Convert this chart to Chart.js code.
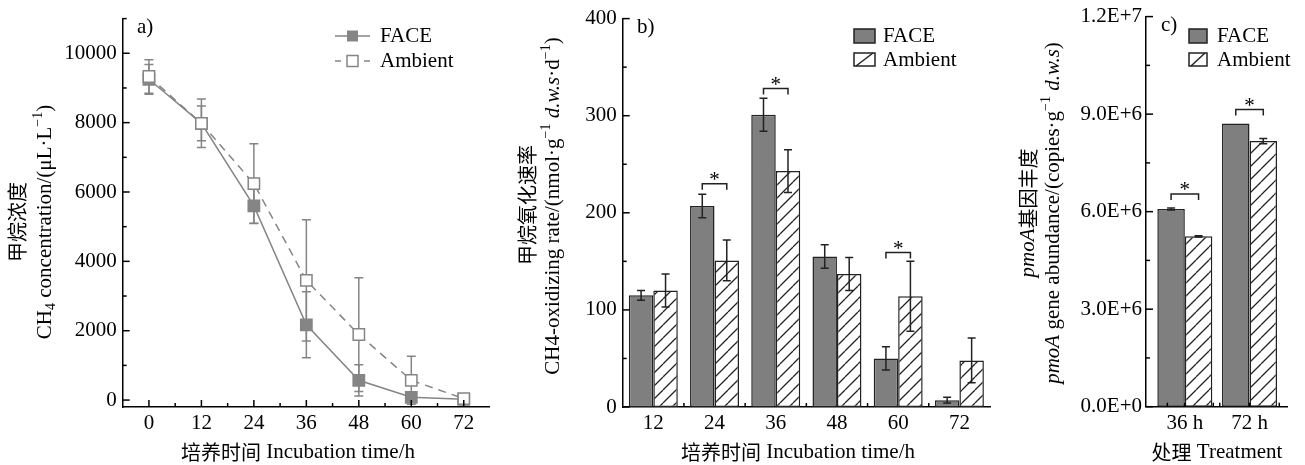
<!DOCTYPE html>
<html>
<head>
<meta charset="utf-8">
<script src="https://cdn.jsdelivr.net/npm/chart.js@4.4.0/dist/chart.umd.min.js"></script>
<style>
  body { margin: 0; background: #fff; }
  #wrap { position: relative; width: 1305px; height: 465px; }
  canvas { position: absolute; left: 0; top: 0; }
</style>
</head>
<body>
<div id="wrap">
  <canvas id="ca" width="1305" height="465"></canvas>
  <canvas id="cb" width="1305" height="465"></canvas>
  <canvas id="cc" width="1305" height="465"></canvas>
</div>
<script>
// ---- panel a: CH4 concentration ----
var hoursA = [0, 12, 24, 36, 48, 60, 72];
var faceA = [9250, 7980, 5600, 2170, 570, 80, 20];
var faceErrA = [430, 700, 500, 950, 450, 60, 30];
var ambA = [9330, 7980, 6240, 3450, 1890, 570, 40];
var ambErrA = [480, 500, 1150, 1750, 1640, 690, 50];
var yTicksA = [0, 2000, 4000, 6000, 8000, 10000];

// ---- panel b: oxidizing rate ----
var hoursB = ['12', '24', '36', '48', '60', '72'];
var faceB = [115, 207, 301, 155, 50, 7];
var faceErrB = [5, 12, 17, 12, 12, 3];
var ambB = [120, 151, 243, 137, 114, 48];
var ambErrB = [17, 21, 22, 17, 36, 23];
var yTicksB = [0, 100, 200, 300, 400];
var sigB = [[1, 230], [2, 328], [4, 159]];   // [category, bracket value]

// ---- panel c: pmoA abundance ----
var treatC = ['36 h', '72 h'];
var faceC = [6.08e6, 8.71e6];
var faceErrC = [0.03e6, 0];
var ambC = [5.24e6, 8.17e6];
var ambErrC = [0.02e6, 0.08e6];
var yTicksC = [0, 3e6, 6e6, 9e6, 1.2e7];
var yLabelsC = ['0.0E+0', '3.0E+6', '6.0E+6', '9.0E+6', '1.2E+7'];
var sigC = [[0, 6.54e6], [1, 9.14e6]];

var FONT = '"Liberation Serif", "DejaVu Serif", serif';
var CJK = '"Noto Sans CJK SC", sans-serif';
var GREY = '#858585';
var BAR = '#7f7f80';
var INK = '#222';

function hatch() {
  var c = document.createElement('canvas');
  c.width = 13; c.height = 13;
  var g = c.getContext('2d');
  g.fillStyle = '#fff';
  g.fillRect(0, 0, 13, 13);
  g.strokeStyle = INK;
  g.lineWidth = 1.3;
  g.beginPath();
  g.moveTo(0, 13); g.lineTo(13, 0);
  g.moveTo(-13, 13); g.lineTo(0, 0);
  g.moveTo(13, 13); g.lineTo(26, 0);
  g.stroke();
  return g.createPattern(c, 'repeat');
}
var HATCH = hatch();

function drawRich(ctx, segs, x, y, rotated, align) {
  ctx.save();
  ctx.translate(x, y);
  if (rotated) ctx.rotate(-Math.PI / 2);
  ctx.fillStyle = '#000';
  ctx.textBaseline = 'middle';
  ctx.textAlign = 'left';
  var fonts = segs.map(function (s) {
    var k = s[1] || '';
    if (k === 'c') return '20px ' + CJK;
    if (k === 'i') return 'italic 21px ' + FONT;
    if (k === 'sup' || k === 'sub') return '14px ' + FONT;
    return '21px ' + FONT;
  });
  var widths = segs.map(function (s, i) { ctx.font = fonts[i]; return ctx.measureText(s[0]).width; });
  var total = widths.reduce(function (a, b) { return a + b; }, 0);
  var cx = align === 'left' ? 0 : -total / 2;
  segs.forEach(function (s, i) {
    ctx.font = fonts[i];
    var dy = s[1] === 'sup' ? -7 : (s[1] === 'sub' ? 6 : 0);
    ctx.fillText(s[0], cx, dy);
    cx += widths[i];
  });
  ctx.restore();
}

function seg(ctx, x1, y1, x2, y2) {
  ctx.beginPath(); ctx.moveTo(x1, y1); ctx.lineTo(x2, y2); ctx.stroke();
}

function inTicks(chart, yMajor, yMinor, xMajorPx, xMinorPx) {
  var ctx = chart.ctx, a = chart.chartArea, ys = chart.scales.y;
  ctx.save();
  ctx.strokeStyle = '#000';
  ctx.lineWidth = 1.5;
  yMajor.forEach(function (v) { var p = ys.getPixelForValue(v); seg(ctx, a.left, p, a.left + 7, p); });
  yMinor.forEach(function (v) { var p = ys.getPixelForValue(v); seg(ctx, a.left, p, a.left + 4, p); });
  xMajorPx.forEach(function (p) { seg(ctx, p, a.bottom, p, a.bottom - 7); });
  xMinorPx.forEach(function (p) { seg(ctx, p, a.bottom, p, a.bottom - 4); });
  ctx.restore();
}

function vErr(ctx, x, yTop, yBot, cap) {
  ctx.beginPath();
  ctx.moveTo(x, yTop); ctx.lineTo(x, yBot);
  ctx.moveTo(x - cap, yTop); ctx.lineTo(x + cap, yTop);
  ctx.moveTo(x - cap, yBot); ctx.lineTo(x + cap, yBot);
  ctx.stroke();
}

function bracket(ctx, x1, x2, y) {
  ctx.save();
  ctx.strokeStyle = INK; ctx.lineWidth = 1.5;
  ctx.beginPath();
  ctx.moveTo(x1, y + 6); ctx.lineTo(x1, y); ctx.lineTo(x2, y); ctx.lineTo(x2, y + 6);
  ctx.stroke();
  ctx.fillStyle = '#000';
  ctx.font = '21px ' + FONT;
  ctx.textAlign = 'center';
  ctx.textBaseline = 'alphabetic';
  ctx.fillText('*', (x1 + x2) / 2, y + 2);
  ctx.restore();
}

function barErrors(chart, errs) {
  var ctx = chart.ctx, ys = chart.scales.y;
  ctx.save();
  ctx.strokeStyle = INK; ctx.lineWidth = 1.5;
  chart.data.datasets.forEach(function (ds, d) {
    chart.getDatasetMeta(d).data.forEach(function (bar, i) {
      var v = ds.data[i].y !== undefined ? ds.data[i].y : ds.data[i];
      if (!errs[d][i]) return;
      vErr(ctx, bar.x, ys.getPixelForValue(v + errs[d][i]), ys.getPixelForValue(v - errs[d][i]), 4);
    });
  });
  ctx.restore();
}

function barLegend(ctx, x, y, w) {
  ctx.save();
  ctx.lineWidth = 1.5; ctx.strokeStyle = INK;
  ctx.fillStyle = BAR;
  ctx.fillRect(x, y - 7, w, 14); ctx.strokeRect(x, y - 7, w, 14);
  ctx.fillStyle = '#fff';
  ctx.fillRect(x, y + 17, w, 13);
  ctx.strokeRect(x, y + 17, w, 13);
  ctx.beginPath(); ctx.moveTo(x + 2, y + 30); ctx.lineTo(x + w - 2, y + 17); ctx.stroke();
  ctx.restore();
}

function commonY(ticks, width, pad, labels) {
  return {
    afterBuildTicks: function (s) { s.ticks = ticks.map(function (v) { return { value: v }; }); },
    afterFit: function (s) { s.width = width; },
    grid: { display: false, drawTicks: false },
    border: { display: true, color: '#000', width: 1.5 },
    ticks: {
      padding: pad, color: '#000', font: { family: FONT, size: 21 },
      callback: function (v, i) { return labels ? labels[i] : v; }
    }
  };
}

// ---------- chart a ----------
var plugA = {
  id: 'plugA',
  beforeDatasetsDraw: function (chart) {
    var ctx = chart.ctx, xs = chart.scales.x, ys = chart.scales.y;
    ctx.save();
    ctx.strokeStyle = GREY; ctx.lineWidth = 1.5;
    [[faceA, faceErrA], [ambA, ambErrA]].forEach(function (p) {
      hoursA.forEach(function (h, i) {
        vErr(ctx, xs.getPixelForValue(h), ys.getPixelForValue(p[0][i] + p[1][i]), ys.getPixelForValue(p[0][i] - p[1][i]), 4.5);
      });
    });
    ctx.restore();
  },
  afterDraw: function (chart) {
    var ctx = chart.ctx, xs = chart.scales.x;
    var minorX = [];
    for (var i = 0; i < hoursA.length - 1; i++) minorX.push(xs.getPixelForValue((hoursA[i] + hoursA[i + 1]) / 2));
    var minorY = [];
    for (var j = 0; j < yTicksA.length; j++) minorY.push(yTicksA[j] + 1000);
    inTicks(chart, yTicksA, minorY, hoursA.map(function (h) { return xs.getPixelForValue(h); }), minorX);
    drawRich(ctx, [['甲烷浓度', 'c']], 17, 222, true);
    drawRich(ctx, [['CH'], ['4', 'sub'], [' concentration/(μL·L'], ['−1', 'sup'], [')']], 45, 222, true);
    drawRich(ctx, [['培养时间', 'c'], [' Incubation time/h']], 298, 452, false);
    drawRich(ctx, [['a)']], 137, 27, false, 'left');
    // legend
    ctx.save();
    ctx.strokeStyle = GREY; ctx.lineWidth = 1.5;
    seg(ctx, 335, 36, 370, 36);
    ctx.fillStyle = GREY; ctx.fillRect(347, 30.5, 11, 11);
    seg(ctx, 335, 61, 341, 61); seg(ctx, 364, 61, 370, 61);
    ctx.fillStyle = '#fff'; ctx.fillRect(347, 55.5, 11, 11); ctx.strokeRect(347, 55.5, 11, 11);
    ctx.restore();
    drawRich(ctx, [['FACE']], 380, 36, false, 'left');
    drawRich(ctx, [['Ambient']], 380, 61, false, 'left');
  }
};

new Chart(document.getElementById('ca'), {
  type: 'line',
  data: {
    datasets: [
      {
        label: 'FACE', order: 1,
        data: hoursA.map(function (h, i) { return { x: h, y: faceA[i] }; }),
        borderColor: GREY, borderWidth: 1.5,
        pointStyle: 'rect', pointRadius: 8, pointBorderWidth: 1.5,
        pointBackgroundColor: GREY, pointBorderColor: GREY
      },
      {
        label: 'Ambient', order: 0,
        data: hoursA.map(function (h, i) { return { x: h, y: ambA[i] }; }),
        borderColor: GREY, borderWidth: 1.5, borderDash: [8, 6],
        pointStyle: 'rect', pointRadius: 8, pointBorderWidth: 1.5,
        pointBackgroundColor: '#fff', pointBorderColor: GREY
      }
    ]
  },
  options: {
    responsive: false, animation: false, events: [], devicePixelRatio: 1,
    layout: { padding: { left: 0, top: 15, right: 815, bottom: 0 } },
    plugins: { legend: { display: false }, tooltip: { enabled: false } },
    scales: {
      x: {
        type: 'linear', min: -6, max: 78,
        afterBuildTicks: function (s) { s.ticks = hoursA.map(function (v) { return { value: v }; }); },
        afterFit: function (s) { s.height = 58; },
        grid: { display: false, drawTicks: false },
        border: { display: true, color: '#000', width: 1.5 },
        ticks: { padding: 4, color: '#000', autoSkip: false, maxRotation: 0, font: { family: FONT, size: 21 } }
      },
      y: Object.assign({ min: -200, max: 11000 }, commonY(yTicksA, 122.7, 6))
    }
  },
  plugins: [plugA]
});

// ---------- chart b ----------
var plugB = {
  id: 'plugB',
  afterDatasetsDraw: function (chart) {
    barErrors(chart, [faceErrB, ambErrB]);
  },
  afterDraw: function (chart) {
    var ctx = chart.ctx, xs = chart.scales.x, ys = chart.scales.y;
    var bounds = [];
    for (var i = 0; i < hoursB.length - 1; i++) bounds.push(xs.getPixelForValue(i + 0.5));
    var minorY = [];
    for (var j = 0; j < yTicksB.length - 1; j++) minorY.push(yTicksB[j] + 50);
    inTicks(chart, yTicksB, minorY, [], bounds);
    var m0 = chart.getDatasetMeta(0).data, m1 = chart.getDatasetMeta(1).data;
    sigB.forEach(function (s) { bracket(ctx, m0[s[0]].x, m1[s[0]].x, ys.getPixelForValue(s[1])); });
    drawRich(ctx, [['甲烷氧化速率', 'c']], 527, 205, true);
    drawRich(ctx, [['CH4-oxidizing rate/(nmol·g'], ['−1', 'sup'], [' '], ['d.w.s', 'i'], ['·d'], ['−1', 'sup'], [')']], 553, 206, true);
    drawRich(ctx, [['培养时间', 'c'], [' Incubation time/h']], 798, 452, false);
    drawRich(ctx, [['b)']], 637, 27, false, 'left');
    barLegend(ctx, 854, 36, 21);
    drawRich(ctx, [['FACE']], 883, 36, false, 'left');
    drawRich(ctx, [['Ambient']], 883, 60.5, false, 'left');
  }
};

new Chart(document.getElementById('cb'), {
  type: 'bar',
  data: {
    labels: hoursB,
    datasets: [
      { label: 'FACE', data: faceB, backgroundColor: BAR, borderColor: INK, borderWidth: 1.5, borderSkipped: false },
      { label: 'Ambient', data: ambB, backgroundColor: HATCH, borderColor: INK, borderWidth: 1.5, borderSkipped: false }
    ]
  },
  options: {
    responsive: false, animation: false, events: [], devicePixelRatio: 1,
    categoryPercentage: 0.8, barPercentage: 1.0,
    layout: { padding: { left: 0, top: 15, right: 315, bottom: 0 } },
    plugins: { legend: { display: false }, tooltip: { enabled: false } },
    scales: {
      x: {
        afterFit: function (s) { s.height = 58; },
        grid: { display: false, drawTicks: false },
        border: { display: true, color: '#000', width: 1.5 },
        ticks: { padding: 4, color: '#000', autoSkip: false, maxRotation: 0, font: { family: FONT, size: 21 } }
      },
      y: Object.assign({ min: 0, max: 400 }, commonY(yTicksB, 622.7, 6))
    }
  },
  plugins: [plugB]
});

// ---------- chart c ----------
var plugC = {
  id: 'plugC',
  afterDatasetsDraw: function (chart) {
    barErrors(chart, [faceErrC, ambErrC]);
  },
  afterDraw: function (chart) {
    var ctx = chart.ctx, xs = chart.scales.x, ys = chart.scales.y;
    var minorY = [];
    for (var j = 0; j < yTicksC.length - 1; j++) minorY.push(yTicksC[j] + 1.5e6);
    inTicks(chart, yTicksC, minorY, [], [-0.27, 0, 0.44, 0.54, 1, 1.46].map(function (v) { return xs.getPixelForValue(v); }));
    var m0 = chart.getDatasetMeta(0).data, m1 = chart.getDatasetMeta(1).data;
    sigC.forEach(function (s) { bracket(ctx, m0[s[0]].x, m1[s[0]].x, ys.getPixelForValue(s[1])); });
    drawRich(ctx, [['pmoA', 'i'], ['基因丰度', 'c']], 1028, 213, true);
    drawRich(ctx, [['pmoA', 'i'], [' gene abundance/(copies·g'], ['−1', 'sup'], [' '], ['d.w.s', 'i'], [')']], 1053, 213, true);
    drawRich(ctx, [['处理', 'c'], [' Treatment']], 1217, 452, false);
    drawRich(ctx, [['c)']], 1161, 25, false, 'left');
    barLegend(ctx, 1189, 36, 18);
    drawRich(ctx, [['FACE']], 1217, 36, false, 'left');
    drawRich(ctx, [['Ambient']], 1217, 60, false, 'left');
  }
};

new Chart(document.getElementById('cc'), {
  type: 'bar',
  data: {
    datasets: [
      { label: 'FACE', data: faceC.map(function (v, i) { return { x: i, y: v }; }), backgroundColor: BAR, borderColor: INK, borderWidth: 1.5, borderSkipped: false },
      { label: 'Ambient', data: ambC.map(function (v, i) { return { x: i, y: v }; }), backgroundColor: HATCH, borderColor: INK, borderWidth: 1.5, borderSkipped: false }
    ]
  },
  options: {
    responsive: false, animation: false, events: [], devicePixelRatio: 1,
    categoryPercentage: 0.85, barPercentage: 1.0,
    layout: { padding: { left: 0, top: 15, right: 17.3, bottom: 0 } },
    plugins: { legend: { display: false }, tooltip: { enabled: false } },
    scales: {
      x: {
        type: 'linear', min: -0.6, max: 1.59, offset: false,
        afterBuildTicks: function (s) { s.ticks = treatC.map(function (t, i) { return { value: i }; }); },
        afterFit: function (s) { s.height = 58.3; },
        grid: { display: false, drawTicks: false },
        border: { display: true, color: '#000', width: 1.5 },
        ticks: {
          padding: 4, color: '#000', autoSkip: false, maxRotation: 0, font: { family: FONT, size: 21 },
          callback: function (v, i) { return treatC[i]; }
        }
      },
      y: Object.assign({ min: 0, max: 1.2e7 }, commonY(yTicksC, 1146, 4, yLabelsC))
    }
  },
  plugins: [plugC]
});
</script>
</body>
</html>
